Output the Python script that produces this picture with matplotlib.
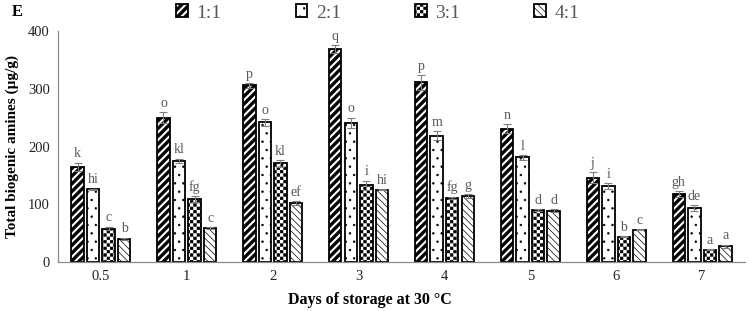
import warnings
warnings.filterwarnings("ignore")
import numpy as np
import matplotlib
matplotlib.use("Agg")
import matplotlib.pyplot as plt
import matplotlib.hatch as mhatch
from matplotlib.path import Path

# ---------------- data ----------------
days = ["0.5", "1", "2", "3", "4", "5", "6", "7"]
series = ["1:1", "2:1", "3:1", "4:1"]
vals_11 = [165, 250, 306, 369, 311, 231, 146, 118]
vals_21 = [126, 175, 242, 241, 219, 181, 131, 93]
vals_31 = [58, 109, 171, 133, 111, 90, 44, 21]
vals_41 = [40, 59, 102, 125, 114, 89, 56, 27]
err_11 = [7, 9, 4, 7, 13, 8, 9, 5]
err_21 = [1, 4, 6, 9, 8, 4, 5, 5]
err_31 = [3, 5, 6, 8, 2, 1, 1, 1]
err_41 = [2, 1, 3, 1, 4, 2, 1, 3]
let_11 = ["k", "o", "p", "q", "p", "n", "j", "gh"]
let_21 = ["hi", "kl", "o", "o", "m", "l", "i", "de"]
let_31 = ["c", "fg", "kl", "i", "fg", "d", "b", "a"]
let_41 = ["b", "c", "ef", "hi", "g", "d", "c", "a"]

values = [vals_11, vals_21, vals_31, vals_41]
errors = [err_11, err_21, err_31, err_41]
letters = [let_11, let_21, let_31, let_41]


# ---------------- custom hatches ----------------
class CheckerHatch(mhatch.HatchPatternBase):
    def __init__(self, hatch, density):
        self.n = 30 if "c" in hatch else 0
        self.num_vertices = (self.n * self.n // 2) * 5

    def set_vertices_and_codes(self, vertices, codes):
        n = self.n
        s = 1.0 / n
        ins = 0.004
        verts = []
        for i in range(n):
            for j in range(n):
                if (i + j) % 2 == 0:
                    x0, y0 = i * s + ins, j * s + ins
                    x1, y1 = (i + 1) * s - ins, (j + 1) * s - ins
                    verts.append([[x0, y0], [x1, y0], [x1, y1], [x0, y1], [x0, y0]])
        vertices[:] = np.array(verts).reshape(-1, 2)
        codes[:] = np.tile([Path.MOVETO, Path.LINETO, Path.LINETO,
                            Path.LINETO, Path.CLOSEPOLY], len(verts))


class StripeHatch(mhatch.HatchPatternBase):
    def __init__(self, hatch, density):
        self.k = 13 if "s" in hatch else 0
        self.num_vertices = 2 * self.k * 5

    def set_vertices_and_codes(self, vertices, codes):
        k = self.k
        w = 0.48 / k
        verts = []
        for i in range(-k, k):
            t = i / k
            verts.append([[t, 0], [t + w, 0], [t + w + 1, 1], [t + 1, 1], [t, 0]])
        vertices[:] = np.array(verts).reshape(-1, 2)
        codes[:] = np.tile([Path.MOVETO, Path.LINETO, Path.LINETO,
                            Path.LINETO, Path.CLOSEPOLY], len(verts))


mhatch._hatch_types.append(CheckerHatch)
mhatch._hatch_types.append(StripeHatch)

plt.rcParams["hatch.linewidth"] = 0.5
plt.rcParams["font.family"] = ["Liberation Serif", "DejaVu Serif"]

hatches = ["s", "..", "c", "\\\\\\\\\\"]

fig = plt.figure(figsize=(7.5, 3.11), dpi=100)
ax = fig.add_axes([58 / 750, 49 / 311, 687 / 750, 231 / 311])

x = np.arange(len(days))
width = 0.145
pitch = 0.181
gray = "#595959"

for k in range(4):
    pos = x + (k - 1.5) * pitch
    ax.bar(pos, values[k], width=width, color="white", edgecolor="black",
           linewidth=1.3, hatch=hatches[k], label=series[k], zorder=2)
    ax.errorbar(pos, values[k], yerr=errors[k], fmt="none", ecolor="#7f7f7f",
                elinewidth=0.8, capsize=3, capthick=0.8, zorder=3)
    for xi, v, e, t in zip(pos, values[k], errors[k], letters[k]):
        ax.annotate(t, (xi, v + e), xytext=(0, 3.8), textcoords="offset points",
                    ha="center", va="baseline", fontsize=10, color=gray)

ax.set_xlim(-0.5, len(days) - 0.5)
ax.set_ylim(0, 400)
ax.set_yticks([0, 100, 200, 300, 400])
ax.set_xticks(x)
ax.set_xticklabels(days)
ax.tick_params(axis="both", length=0, labelsize=10.5, colors="#222222")
ax.tick_params(axis="y", pad=6)
ax.tick_params(axis="x", pad=6)
for s in ["top", "right"]:
    ax.spines[s].set_visible(False)
for s in ["left", "bottom"]:
    ax.spines[s].set_color("#8c8c8c")
    ax.spines[s].set_linewidth(0.9)

fig.text(12 / 750, 1 - 146 / 311, "Total biogenic amines (µg/g)", rotation=90,
         ha="center", va="center", fontsize=11, fontweight="bold")
fig.text(370 / 750, 1 - 300 / 311, "Days of storage at 30 °C",
         ha="center", va="center", fontsize=11.5, fontweight="bold")
fig.text(12 / 750, 1 - 12 / 311, "E", ha="left", va="center",
         fontsize=12, fontweight="bold")

fig.legend(loc="center", bbox_to_anchor=(378 / 750, 1 - 13 / 311), ncol=4,
           frameon=False, fontsize=14, labelcolor=gray, handlelength=0.6,
           handleheight=0.6, handletextpad=0.45, columnspacing=3.8,
           borderpad=0.1)

fig.savefig("out.png", dpi=100)
